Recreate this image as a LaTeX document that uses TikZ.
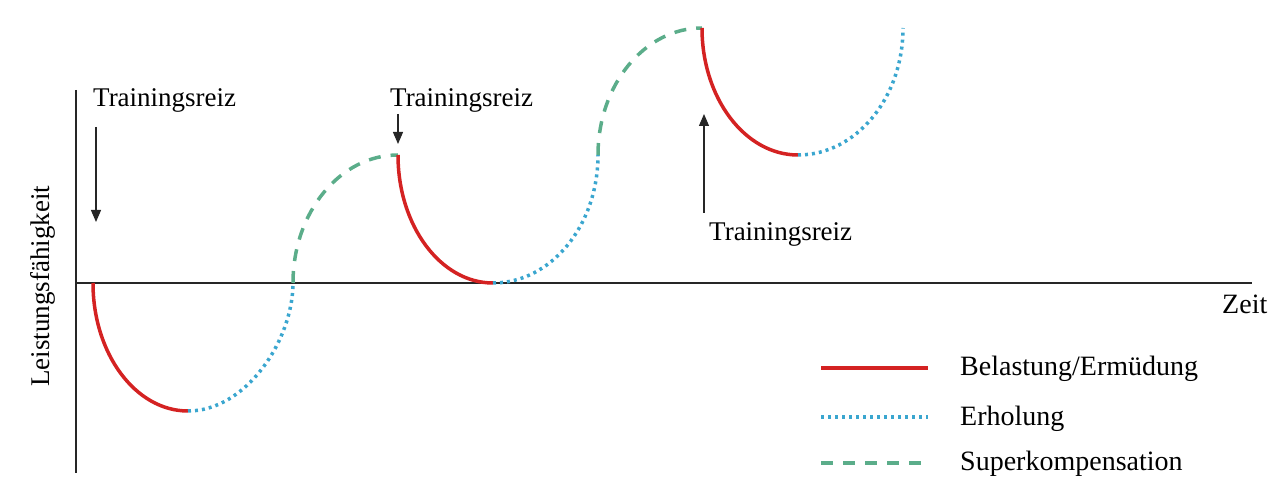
\documentclass[tikz,border=0pt]{standalone}
\usepackage{fontspec}
\setmainfont{Liberation Serif}
\usetikzlibrary{arrows.meta}
\definecolor{cred}{HTML}{D42222}
\definecolor{cblue}{HTML}{3AA6CF}
\definecolor{cgreen}{HTML}{5BAD8A}
\tikzset{
  lbl/.style={font=\fontsize{27}{30}\selectfont, inner sep=0pt, anchor=base west},
  leglbl/.style={font=\fontsize{28}{31}\selectfont, inner sep=0pt, anchor=base west},
  belast/.style={cred, line width=3.5pt},
  erhol/.style={cblue, line width=3.5pt, dash pattern=on 3pt off 4pt},
  superk/.style={cgreen, line width=3.5pt, dash pattern=on 12pt off 10pt},
  axis/.style={black!85, line width=2.8pt},
  reiz/.style={black!85, line width=1.2pt, -{Triangle[width=10pt,length=12pt]}}
}
\begin{document}
\begin{tikzpicture}[x=1pt,y=-1pt]
\useasboundingbox (0,0) rectangle (1280,502);
% axes
\coordinate (yt) at (76,90);
\coordinate (yb) at (76,473);
\coordinate (xl) at (76,283);
\coordinate (xr) at (1252,283);
\draw[axis] (yt) -- (yb);
\draw[axis] (xl) -- (xr);
% curve points
\coordinate (A) at (93,283);
\coordinate (B) at (188,411);
\coordinate (C) at (293,283);
\coordinate (D) at (398,155);
\coordinate (E) at (493,283);
\coordinate (F) at (598,155);
\coordinate (G) at (702,28);
\coordinate (H) at (798,155);
\coordinate (I) at (903,28);
\draw[belast] (A) .. controls (93,353.7) and (135.5,411) .. (B);
\draw[erhol] (B) .. controls (246,411) and (293,340.3) .. (C);
\draw[superk] (C) .. controls (293,212.3) and (340,155) .. (D);
\draw[belast] (D) .. controls (398,225.7) and (440.5,283) .. (E);
\draw[erhol] (E) .. controls (551,283) and (598,225.7) .. (F);
\draw[superk] (F) .. controls (598,84.9) and (644.6,28) .. (G);
\draw[belast] (G) .. controls (702,98.1) and (745,155) .. (H);
\draw[erhol] (H) .. controls (856,155) and (903,98.1) .. (I);
% labels
\node[lbl] (t1) at (93,107) {Trainingsreiz};
\node[lbl] (t2) at (390,107) {Trainingsreiz};
\node[lbl] (t3) at (709,241) {Trainingsreiz};
\node[leglbl] (zeit) at (1222,314) {Zeit};
\node[lbl, rotate=90] (ylab) at (49,387) {Leistungsfähigkeit};
% arrows
\coordinate (a1s) at (96,127);
\coordinate (a1e) at (96,222);
\coordinate (a2s) at (398,114);
\coordinate (a2e) at (398,144);
\coordinate (a3s) at (704,213);
\coordinate (a3e) at (704,114);
\draw[reiz] (a1s) -- (a1e);
\draw[reiz] (a2s) -- (a2e);
\draw[reiz] (a3s) -- (a3e);
% legend
\coordinate (l1a) at (821,368); \coordinate (l1b) at (928,368);
\coordinate (l2a) at (821,417); \coordinate (l2b) at (928,417);
\coordinate (l3a) at (821,463); \coordinate (l3b) at (930,463);
\draw[belast] (l1a) -- (l1b);
\draw[erhol] (l2a) -- (l2b);
\draw[superk] (l3a) -- (l3b);
\node[leglbl] (lg1) at (960,376) {Belastung/Ermüdung};
\node[leglbl] (lg2) at (960,425) {Erholung};
\node[leglbl] (lg3) at (960,471) {Superkompensation};
\end{tikzpicture}
\end{document}
